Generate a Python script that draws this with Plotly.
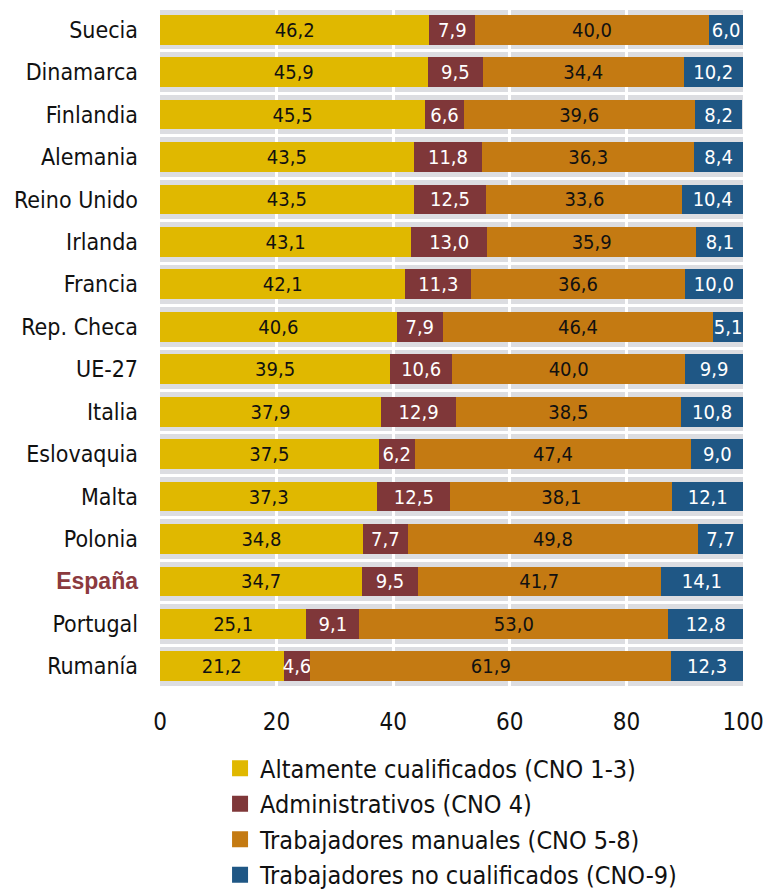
import plotly.graph_objects as go

categories = ["Suecia", "Dinamarca", "Finlandia", "Alemania", "Reino Unido", "Irlanda",
              "Francia", "Rep. Checa", "UE-27", "Italia", "Eslovaquia", "Malta",
              "Polonia", "España", "Portugal", "Rumanía"]
altamente = [46.2, 45.9, 45.5, 43.5, 43.5, 43.1, 42.1, 40.6, 39.5, 37.9, 37.5, 37.3, 34.8, 34.7, 25.1, 21.2]
administrativos = [7.9, 9.5, 6.6, 11.8, 12.5, 13.0, 11.3, 7.9, 10.6, 12.9, 6.2, 12.5, 7.7, 9.5, 9.1, 4.6]
manuales = [40.0, 34.4, 39.6, 36.3, 33.6, 35.9, 36.6, 46.4, 40.0, 38.5, 47.4, 38.1, 49.8, 41.7, 53.0, 61.9]
no_cualificados = [6.0, 10.2, 8.2, 8.4, 10.4, 8.1, 10.0, 5.1, 9.9, 10.8, 9.0, 12.1, 7.7, 14.1, 12.8, 12.3]

series_names = ["Altamente cualificados (CNO 1-3)", "Administrativos (CNO 4)",
                "Trabajadores manuales (CNO 5-8)", "Trabajadores no cualificados (CNO-9)"]
series_values = [altamente, administrativos, manuales, no_cualificados]
series_colors = ["#E0B800", "#7F3739", "#C47A12", "#1F5785"]
text_colors = ["#111111", "#FFFFFF", "#111111", "#FFFFFF"]
x_ticks = [0, 20, 40, 60, 80, 100]

FONT = "Liberation Sans Narrow, Arial Narrow, DejaVu Sans Condensed, sans-serif"

tick_text = [
    '<b><span style="color:#8B3A3E;font-family:Liberation Sans, Arial, sans-serif">' + c + '</span></b>'
    if c == "España" else c
    for c in categories
]

fig = go.Figure()
for name, vals, col, tcol in zip(series_names, series_values, series_colors, text_colors):
    fig.add_trace(go.Bar(
        y=categories, x=vals, orientation="h", name=name,
        marker=dict(color=col, line=dict(width=0)),
        width=0.7,
        texttemplate="%{x:.1f}", textposition="inside", insidetextanchor="middle",
        textangle=0, constraintext="none",
        textfont=dict(color=tcol, size=20, family=FONT),
        showlegend=False, hoverinfo="skip",
    ))
    fig.add_trace(go.Scatter(
        x=[None], y=[None], mode="markers", name=name,
        marker=dict(symbol="square", size=16, color=col),
        showlegend=True,
    ))

fig.update_layout(
    width=765, height=892,
    barmode="stack",
    separators=",.",
    plot_bgcolor="#DCDDE1",
    paper_bgcolor="white",
    margin=dict(l=160, r=22, t=10, b=206, autoexpand=False),
    font=dict(family=FONT, size=23, color="#111111"),
    xaxis=dict(range=[0, 100], tickvals=x_ticks, showgrid=True, gridcolor="white", gridwidth=3,
               zeroline=False, showline=False, ticks="outside", ticklen=14,
               tickcolor="rgba(0,0,0,0)", tickfont=dict(size=24), fixedrange=True,
               automargin=False),
    yaxis=dict(type="category", categoryorder="array", categoryarray=categories,
               range=[15.465, -0.465], tickmode="array", tickvals=categories, ticktext=tick_text,
               tickson="boundaries", showgrid=True, gridcolor="white", gridwidth=3,
               ticks="", ticklabelstandoff=21, tickfont=dict(size=23), showline=False,
               zeroline=False, fixedrange=True, automargin=False),
    legend=dict(x=0.103, xanchor="left", y=-0.088, yanchor="top", orientation="v",
                traceorder="normal",
                font=dict(size=25, family=FONT), tracegroupgap=0, bgcolor="rgba(0,0,0,0)"),
)

fig.write_html("out.html",
               config={"displayModeBar": False},
               post_script="document.body.style.margin='0px';document.body.style.overflow='hidden';")
